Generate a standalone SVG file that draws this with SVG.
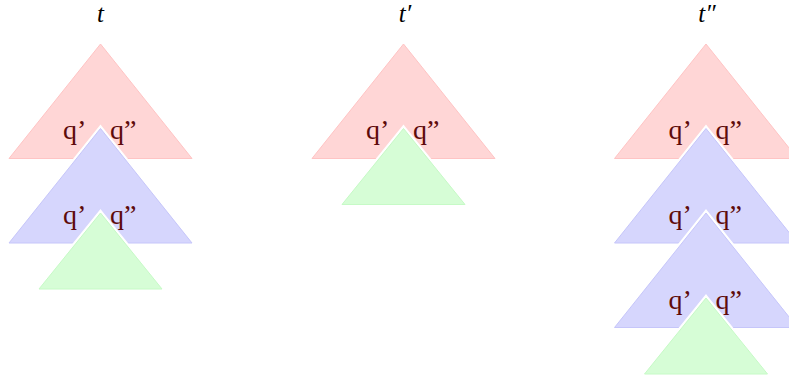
<svg xmlns="http://www.w3.org/2000/svg" width="789" height="385" viewBox="0 0 789 385">
<style>
.red{fill:#ffd6d6;stroke:#ffc4c4;stroke-width:1}
.blue{fill:#d6d6fd;stroke:#c6c6fa;stroke-width:1}
.green{fill:#d6fdd6;stroke:#c6fac6;stroke-width:1}
.halo{fill:#fff;stroke:#fff;stroke-width:5;stroke-linejoin:miter}
.title{font-family:'Liberation Serif',serif;font-style:italic;font-size:25px;fill:#000;text-anchor:middle}
.lbl{font-family:'Liberation Serif',serif;font-size:28px;fill:#5e0b0b}
</style>
<defs>
<path id="big" d="M0,0 L91.5,114.5 L-91.5,114.5 Z"/>
<path id="small" d="M0,0 L61.5,76 L-61.5,76 Z"/>
</defs>
<g id="tree-t">
<text class="title" x="100.5" y="22">t</text>
<use href="#big" class="red" x="100.5" y="44"/>
<text class="lbl" x="63" y="139">q’</text><text class="lbl" x="110" y="139">q”</text>
<use href="#big" class="halo" x="100.5" y="128.5"/>
<use href="#big" class="blue" x="100.5" y="128.5"/>
<text class="lbl" x="63" y="224">q’</text><text class="lbl" x="110" y="224">q”</text>
<use href="#small" class="halo" x="100.5" y="213"/>
<use href="#small" class="green" x="100.5" y="213"/>
</g>
<g id="tree-t1">
<text class="title" x="405" y="22">t′</text>
<use href="#big" class="red" x="403.5" y="44"/>
<text class="lbl" x="366" y="139">q’</text><text class="lbl" x="413" y="139">q”</text>
<use href="#small" class="halo" x="403.5" y="128.5"/>
<use href="#small" class="green" x="403.5" y="128.5"/>
</g>
<g id="tree-t2">
<text class="title" x="707" y="22">t″</text>
<use href="#big" class="red" x="706" y="44"/>
<text class="lbl" x="668.5" y="139">q’</text><text class="lbl" x="715.5" y="139">q”</text>
<use href="#big" class="halo" x="706" y="128.5"/>
<use href="#big" class="blue" x="706" y="128.5"/>
<text class="lbl" x="668.5" y="224">q’</text><text class="lbl" x="715.5" y="224">q”</text>
<use href="#big" class="halo" x="706" y="213"/>
<use href="#big" class="blue" x="706" y="213"/>
<text class="lbl" x="668.5" y="309">q’</text><text class="lbl" x="715.5" y="309">q”</text>
<use href="#small" class="halo" x="706" y="298"/>
<use href="#small" class="green" x="706" y="298"/>
</g>
<g id="connectors"/>
</svg>
